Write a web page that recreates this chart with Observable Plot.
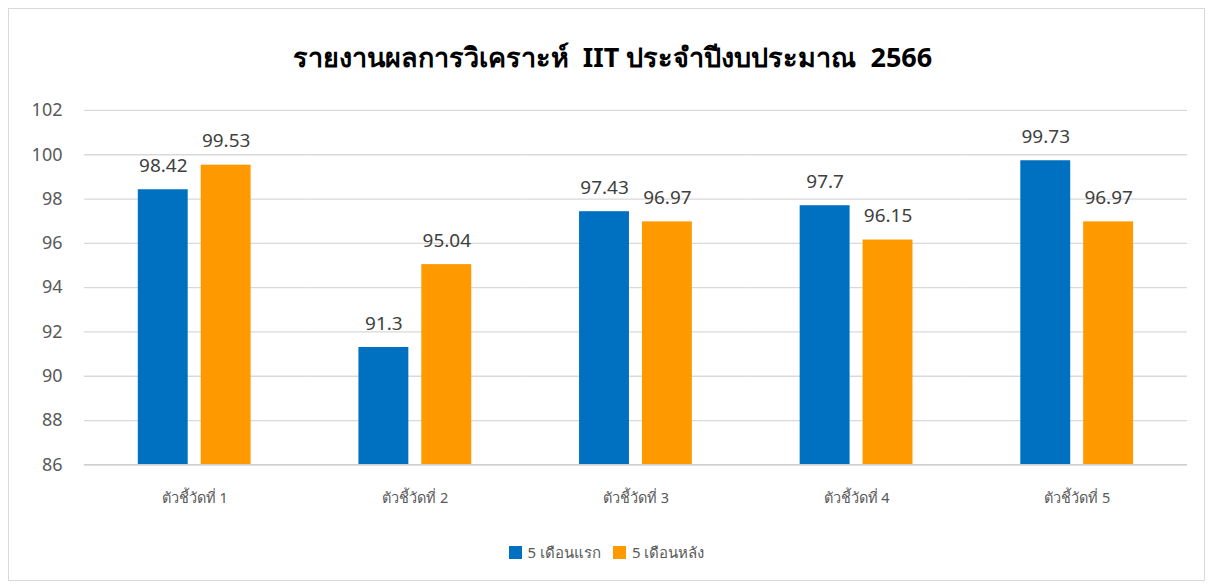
<!DOCTYPE html>
<html><head><meta charset="utf-8">
<script src="https://cdn.jsdelivr.net/npm/d3@7"></script>
<script src="https://cdn.jsdelivr.net/npm/@observablehq/plot@0.6"></script>
<style>
body{margin:0;background:#fff;font-family:"Noto Sans",sans-serif;}
#wrap{position:absolute;left:8px;top:8px;width:1197px;height:573px;border:1px solid #d9d9d9;box-sizing:border-box;background:#fff;}
#title{position:absolute;left:6px;top:27px;width:100%;text-align:center;font-size:27px;font-weight:bold;color:#000;}
#chart{position:absolute;left:0;top:82px;}
#legend{position:absolute;left:0;top:532px;width:100%;text-align:center;font-size:15px;color:#595959;}
.sw{display:inline-block;width:13px;height:13px;vertical-align:-1px;margin-right:6px;}
.item{margin:0 6px;}
</style></head><body>
<div id="wrap">
<div id="title">รายงานผลการวิเคราะห์ &nbsp;IIT ประจำปีงบประมาณ &nbsp;2566</div>
<div id="chart"></div>
<div id="legend"></div>
</div>
<script>
const categories = ["ตัวชี้วัดที่ 1","ตัวชี้วัดที่ 2","ตัวชี้วัดที่ 3","ตัวชี้วัดที่ 4","ตัวชี้วัดที่ 5"];
const seriesNames = ["5 เดือนแรก","5 เดือนหลัง"];
const first5 = [98.42, 91.3, 97.43, 97.7, 99.73];
const last5 = [99.53, 95.04, 96.97, 96.15, 96.97];
const colors = ["#0070C0","#FF9900"];
const yTicks = [86,88,90,92,94,96,98,100,102];

const data = [];
categories.forEach((c,i)=>{
  data.push({cat:c, s:seriesNames[0], v:first5[i]});
  data.push({cat:c, s:seriesNames[1], v:last5[i]});
});

const chart = Plot.plot({
  width: 1197,
  height: 432,
  marginLeft: 75,
  marginRight: 17,
  marginTop: 19,
  marginBottom: 58,
  style:{fontFamily:"Noto Sans, sans-serif", background:"transparent"},
  fx:{domain:categories, padding:0, label:null},
  x:{domain:seriesNames, paddingInner:0.206, paddingOuter:0.855, axis:null},
  y:{domain:[86,102], label:null},
  color:{domain:seriesNames, range:colors},
  marks:[
    Plot.gridY(yTicks, {stroke:"#d9d9d9", strokeOpacity:1, strokeWidth:1.3}),
    Plot.axisY(yTicks, {tickSize:0, tickPadding:22, fontSize:18, fill:"#595959", label:null}),
    Plot.axisFx({tickSize:0, tickPadding:28, fontSize:14.5, fill:"#595959", label:null, anchor:"bottom"}),
    Plot.barY(data, {fx:"cat", x:"s", y1:86, y2:"v", fill:"s"}),
    Plot.text(data, {fx:"cat", x:"s", y:"v", text:d=>String(d.v), dy:-24, fontSize:19, fill:"#404040"}),
    Plot.ruleY([86], {stroke:"#d0d0d0", strokeWidth:1.5})
  ]
});
document.getElementById("chart").appendChild(chart);

const leg = document.getElementById("legend");
seriesNames.forEach((n,i)=>{
  const sp = document.createElement("span");
  sp.className="item";
  sp.innerHTML = `<span class="sw" style="background:${colors[i]}"></span>${n}`;
  leg.appendChild(sp);
});
</script>
</body></html>
